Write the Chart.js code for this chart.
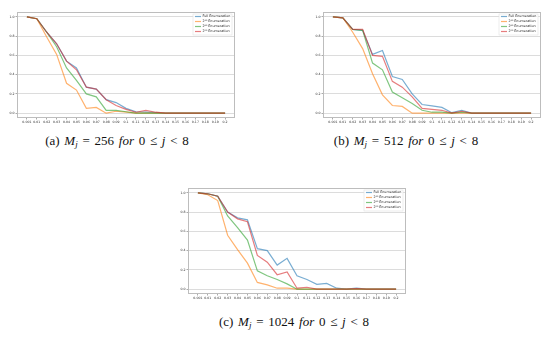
<!DOCTYPE html>
<html>
<head>
<meta charset="utf-8">
<script src="https://cdn.jsdelivr.net/npm/chart.js@4.4.1/dist/chart.umd.min.js"></script>
<style>
  html, body { margin: 0; padding: 0; background: #fff; }
  body { width: 550px; height: 342px; position: relative; overflow: hidden; }
  .plot { position: absolute; width: 240px; height: 118px; }
  .cap {
    position: absolute;
    font-family: "Liberation Serif", "DejaVu Serif", serif;
    font-size: 13px;
    line-height: 14px;
    word-spacing: 1.5px;
    color: #111;
    white-space: nowrap;
    transform: translateX(-50%);
  }
  .cap sub { font-size: 9px; vertical-align: -2px; line-height: 0; }
</style>
</head>
<body>
<div class="plot" style="left:0px;top:8px"><canvas id="chartA"></canvas></div>
<div class="plot" style="left:306px;top:8px"><canvas id="chartB"></canvas></div>
<div class="plot" style="left:171px;top:184px"><canvas id="chartC"></canvas></div>

<div class="cap" style="left:117px;top:134px">(a) <i>M<sub>j</sub></i> = 256 <i>for</i> 0 ≤ <i>j</i> &lt; 8</div>
<div class="cap" style="left:406px;top:134px">(b) <i>M<sub>j</sub></i> = 512 <i>for</i> 0 ≤ <i>j</i> &lt; 8</div>
<div class="cap" style="left:294px;top:315px">(c) <i>M<sub>j</sub></i> = 1024 <i>for</i> 0 ≤ <i>j</i> &lt; 8</div>

<script>
const noiseLabels = ["0.001", "0.01", "0.02", "0.03", "0.04", "0.05", "0.06", "0.07", "0.08", "0.09",
  "0.1", "0.11", "0.12", "0.13", "0.14", "0.15", "0.16", "0.17", "0.18", "0.19", "0.2"];
const seriesNames = ["Full Enumeration", "2¹⁰ Enumeration", "2²⁰ Enumeration", "2³⁰ Enumeration"];
const yTicks = [0, 0.2, 0.4, 0.6, 0.8, 1.0];

// (a) M_j = 256
const fullA = [1.0, 0.98, 0.84, 0.72, 0.54, 0.47, 0.27, 0.25, 0.14, 0.11, 0.05, 0.015, 0.01, 0.005, 0, 0, 0, 0, 0, 0, 0];
const firstA = [1.0, 0.98, 0.79, 0.61, 0.31, 0.24, 0.05, 0.06, 0.0, 0.02, 0.01, 0, 0, 0, 0, 0, 0, 0, 0, 0, 0];
const secondA = [1.0, 0.98, 0.84, 0.69, 0.47, 0.34, 0.20, 0.17, 0.03, 0.03, 0.015, 0, 0, 0, 0, 0, 0, 0, 0, 0, 0];
const thirdA = [1.0, 0.98, 0.84, 0.72, 0.54, 0.45, 0.27, 0.25, 0.14, 0.08, 0.04, 0.01, 0.03, 0.01, 0, 0, 0, 0, 0, 0, 0];

// (b) M_j = 512
const fullB = [1.0, 0.99, 0.87, 0.86, 0.61, 0.65, 0.38, 0.35, 0.20, 0.09, 0.075, 0.06, 0.005, 0.03, 0, 0, 0, 0, 0, 0, 0];
const firstB = [1.0, 0.99, 0.84, 0.67, 0.41, 0.19, 0.08, 0.07, 0.0, 0, 0, 0, 0, 0, 0, 0, 0, 0, 0, 0, 0];
const secondB = [1.0, 0.99, 0.87, 0.86, 0.52, 0.45, 0.22, 0.16, 0.10, 0.03, 0.01, 0.01, 0, 0.01, 0, 0, 0, 0, 0, 0, 0];
const thirdB = [1.0, 0.99, 0.87, 0.87, 0.60, 0.59, 0.33, 0.27, 0.17, 0.05, 0.04, 0.03, 0, 0.02, 0, 0, 0, 0, 0, 0, 0];

// (c) M_j = 1024
const fullC = [1.0, 0.99, 0.965, 0.80, 0.74, 0.72, 0.42, 0.40, 0.25, 0.32, 0.14, 0.10, 0.05, 0.06, 0.01, 0, 0.01, 0, 0, 0, 0];
const firstC = [1.0, 0.98, 0.92, 0.56, 0.41, 0.27, 0.07, 0.045, 0.01, 0.01, 0, 0, 0, 0, 0, 0, 0, 0, 0, 0, 0];
const secondC = [1.0, 0.99, 0.965, 0.76, 0.64, 0.51, 0.19, 0.14, 0.10, 0.055, 0, 0, 0, 0, 0, 0, 0, 0, 0, 0, 0];
const thirdC = [1.0, 0.99, 0.965, 0.80, 0.73, 0.70, 0.35, 0.28, 0.15, 0.18, 0.01, 0.02, 0, 0, 0, 0, 0.005, 0, 0, 0, 0];

const lineColors = ["rgba(31, 119, 180, 0.6)", "rgba(255, 127, 14, 0.6)", "rgba(44, 160, 44, 0.6)", "rgba(214, 39, 40, 0.6)"];
const tickFont = { family: "DejaVu Sans", size: 3.2 };

const framePlugin = {
  id: "frame",
  afterDatasetsDraw(chart) {
    const { ctx, chartArea: a } = chart;
    ctx.save();
    ctx.strokeStyle = "#bdbdbd";
    ctx.lineWidth = 1;
    ctx.strokeRect(a.left + 0.5, a.top + 0.5, a.right - a.left - 1, a.bottom - a.top - 1);
    ctx.restore();
  }
};

// matplotlib style legend tucked in the upper right corner of the axes
const cornerLegend = {
  id: "cornerLegend",
  afterDraw(chart) {
    const { ctx, chartArea: a } = chart;
    const x0 = a.right - 40;
    const y0 = a.top + 4.5;
    ctx.save();
    ctx.fillStyle = "rgba(255, 255, 255, 0.85)";
    ctx.strokeStyle = "#e2e2e2";
    ctx.lineWidth = 0.6;
    ctx.fillRect(x0 - 2, a.top + 2, 39, 21);
    ctx.strokeRect(x0 - 2, a.top + 2, 39, 21);
    ctx.font = "3.3px 'DejaVu Sans'";
    ctx.textBaseline = "middle";
    chart.data.datasets.forEach((ds, i) => {
      const y = y0 + i * 5;
      ctx.strokeStyle = ds.borderColor;
      ctx.lineWidth = 1.2;
      ctx.beginPath();
      ctx.moveTo(x0, y);
      ctx.lineTo(x0 + 6, y);
      ctx.stroke();
      ctx.fillStyle = "#222";
      ctx.fillText(ds.label, x0 + 7.5, y);
    });
    ctx.restore();
  }
};

function toPoints(values) {
  return values.map((v, i) => ({ x: i, y: v }));
}

function buildPanel(id, seriesList) {
  return new Chart(document.getElementById(id), {
    type: "line",
    data: {
      datasets: seriesList.map((values, i) => ({
        label: seriesNames[i],
        data: toPoints(values),
        borderColor: lineColors[i],
        backgroundColor: lineColors[i],
        borderWidth: 1.2,
        pointRadius: 0,
        tension: 0,
        fill: false,
        order: seriesList.length - i
      }))
    },
    plugins: [framePlugin, cornerLegend],
    options: {
      responsive: true,
      maintainAspectRatio: false,
      animation: false,
      layout: { padding: { top: 4, right: 5, bottom: 0, left: 0 } },
      plugins: {
        legend: { display: false },
        tooltip: { enabled: false }
      },
      scales: {
        x: {
          type: "linear",
          min: -1,
          max: 21,
          afterBuildTicks(axis) {
            axis.ticks = noiseLabels.map((_, i) => ({ value: i }));
          },
          afterFit(axis) { axis.height = 8; },
          ticks: {
            callback: (v) => noiseLabels[v] || "",
            autoSkip: false,
            maxRotation: 0,
            padding: 1,
            color: "#333",
            font: tickFont
          },
          grid: {
            drawOnChartArea: false,
            tickLength: 1.5,
            tickColor: "#555",
            tickWidth: 0.5
          },
          border: { display: false }
        },
        y: {
          min: -0.05,
          max: 1.05,
          afterBuildTicks(axis) {
            axis.ticks = yTicks.map((v) => ({ value: v }));
          },
          afterFit(axis) { axis.width = 17; },
          ticks: {
            callback: (v) => Number(v).toFixed(1),
            padding: 1,
            color: "#333",
            font: tickFont
          },
          grid: {
            color: "rgba(170, 170, 170, 0.7)",
            lineWidth: 0.6,
            borderDash: [2, 2],
            tickLength: 1.5,
            tickColor: "#555",
            tickWidth: 0.5,
            tickBorderDash: []
          },
          border: { display: false }
        }
      }
    }
  });
}

buildPanel("chartA", [fullA, firstA, secondA, thirdA]);
buildPanel("chartB", [fullB, firstB, secondB, thirdB]);
buildPanel("chartC", [fullC, firstC, secondC, thirdC]);
</script>
</body>
</html>
